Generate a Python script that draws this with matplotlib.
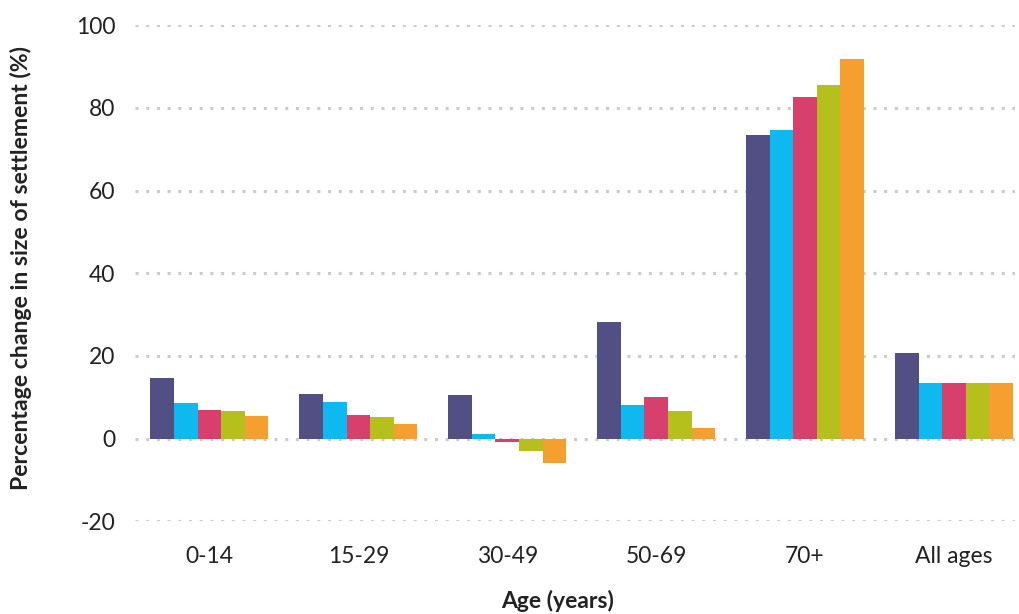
import matplotlib
matplotlib.use("Agg")
import matplotlib.pyplot as plt
import numpy as np

categories = ["0-14", "15-29", "30-49", "50-69", "70+", "All ages"]
series_a = [14.7, 10.8, 10.6, 28.2, 73.4, 20.8]
series_b = [8.6, 8.9, 1.2, 8.2, 74.6, 13.5]
series_c = [6.9, 5.7, -0.8, 10.1, 82.6, 13.5]
series_d = [6.7, 5.2, -3.0, 6.7, 85.5, 13.5]
series_e = [5.5, 3.6, -5.9, 2.6, 91.8, 13.5]
y_ticks = [-20, 0, 20, 40, 60, 80, 100]

colors = ["#524F84", "#0DB9EE", "#D73F6C", "#B5C01C", "#F5A02E"]
series = [series_a, series_b, series_c, series_d, series_e]

plt.rcParams['font.family'] = ['Lato', 'DejaVu Sans']

W, H = 1020, 614
fig = plt.figure(figsize=(W / 100, H / 100), dpi=100)
ax = fig.add_axes([135/W, 1 - 521.4/H, (1015-135)/W, (521.4-25.2)/H])

x = np.arange(len(categories))
bw = 0.792 / 5
for i, (vals, c) in enumerate(zip(series, colors)):
    ax.bar(x + (i - 2) * bw, vals, width=bw, color=c, zorder=3, linewidth=0)

ax.set_ylim(-20, 100)
ax.set_xlim(-0.5, 5.41)
ax.set_yticks(y_ticks)
ax.set_yticklabels([str(t) for t in y_ticks])
ax.set_xticks(x)
ax.set_xticklabels(categories)
ax.tick_params(axis='both', length=0, labelsize=16.5, colors="#222222")
ax.tick_params(axis='y', pad=14)
ax.tick_params(axis='x', pad=18)
for s in ax.spines.values():
    s.set_visible(False)
ax.grid(axis='y', color="#cccccc", linestyle=(0, (1, 2.5)), linewidth=2.2, zorder=0)
ax.set_axisbelow(True)

fig.text(21/W, 1 - 268/H, "Percentage change in size of settlement (%)", rotation=90,
         ha='center', va='center', fontsize=16.6, fontweight='bold', color="#222222")
fig.text(558/W, 1 - 601/H, "Age (years)", ha='center', va='center',
         fontsize=16.5, fontweight='bold', color="#222222")

fig.savefig("out.png", dpi=100)
